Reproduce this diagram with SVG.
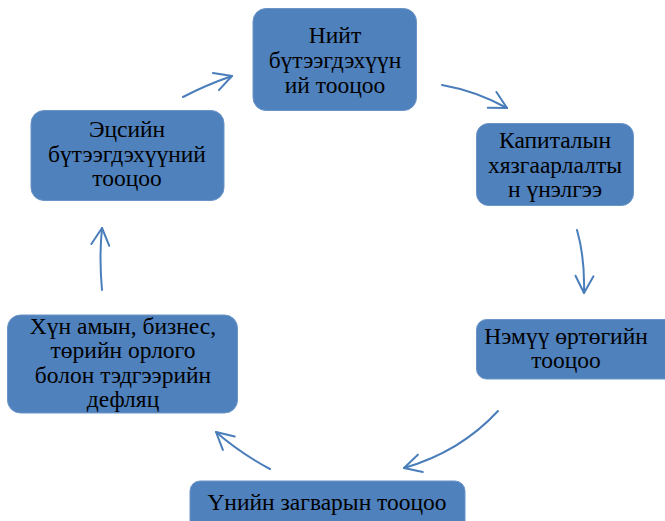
<svg xmlns="http://www.w3.org/2000/svg" width="665" height="521" viewBox="0 0 665 521">
<style>
.box{fill:#4f81bd;stroke:#6a93c6;stroke-width:1}
.t{font-family:"Liberation Serif","Times New Roman",serif;font-size:23.5px;fill:#000;text-anchor:middle}
.c{fill:none;stroke:#4a7ebb;stroke-width:2;stroke-linecap:round}
</style>
<defs>
<marker id="ah" markerUnits="userSpaceOnUse" viewBox="-20 -12 24 24" refX="0" refY="0" markerWidth="24" markerHeight="24" orient="auto">
<path d="M-17,-9 L0,0 L-17,9" fill="none" stroke="#4a7ebb" stroke-width="2" stroke-linecap="round" stroke-linejoin="round"/>
</marker>
</defs>
<rect width="665" height="521" fill="#ffffff"/>
<g id="connectors">
<path class="c" marker-end="url(#ah)" d="M183,97 Q206,85 232,76"/>
<path class="c" marker-end="url(#ah)" d="M442,85 Q476,91 507,108"/>
<path class="c" marker-end="url(#ah)" d="M577,230 Q585,258 584,293"/>
<path class="c" marker-end="url(#ah)" d="M498,411 Q460,452 404,468"/>
<path class="c" marker-end="url(#ah)" d="M270,469 Q240,453 216,432"/>
<path class="c" marker-end="url(#ah)" d="M102,290 Q99,258 102,228"/>
</g>
<g id="n1">
<rect class="box" x="253" y="8.5" width="163.5" height="102" rx="13"/>
<text class="t" x="335" y="42.5">Нийт</text>
<text class="t" x="335" y="68">бүтээгдэхүүн</text>
<text class="t" x="335" y="92.5">ий тооцоо</text>
</g>
<g id="n2">
<rect class="box" x="476.5" y="123.5" width="157" height="82" rx="12"/>
<text class="t" x="555" y="147.5">Капиталын</text>
<text class="t" x="555" y="172.5">хязгаарлалты</text>
<text class="t" x="555" y="196.5">н үнэлгээ</text>
</g>
<g id="n3">
<rect class="box" x="476.5" y="319.5" width="200" height="59.5" rx="10"/>
<text class="t" x="566" y="344">Нэмүү өртөгийн</text>
<text class="t" x="566" y="368">тооцоо</text>
</g>
<g id="n4">
<rect class="box" x="190" y="481" width="275" height="60" rx="10"/>
<text class="t" x="327" y="510">Үнийн загварын тооцоо</text>
</g>
<g id="n5">
<rect class="box" x="7.5" y="315" width="230" height="98" rx="13"/>
<text class="t" x="123" y="333.5">Хүн амын, бизнес,</text>
<text class="t" x="123" y="358">төрийн орлого</text>
<text class="t" x="123" y="382.5">болон тэдгээрийн</text>
<text class="t" x="123" y="407">дефляц</text>
</g>
<g id="n6">
<rect class="box" x="31" y="110.5" width="193" height="90" rx="13"/>
<text class="t" x="127" y="136.5">Эцсийн</text>
<text class="t" x="127" y="161.5">бүтээгдэхүүний</text>
<text class="t" x="127" y="186">тооцоо</text>
</g>
</svg>
